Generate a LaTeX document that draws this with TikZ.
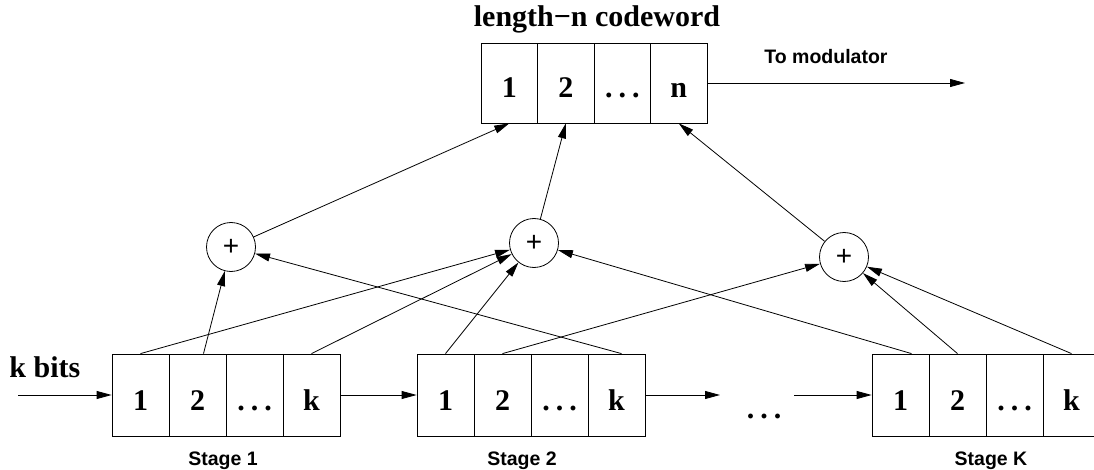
\documentclass[tikz,border=0pt]{standalone}
\usepackage{fontspec}
\setmainfont{Liberation Serif}
\setsansfont{Liberation Sans}
\usetikzlibrary{arrows.meta,positioning}

\begin{document}
\begin{tikzpicture}[x=1pt, y=-1pt, line width=0.8pt,
    >={Triangle[length=15pt,width=8pt]},
    cwcell/.style={draw, minimum width=56.5pt, minimum height=80pt, inner sep=0pt,
      text height=30pt, text depth=0pt, font=\bfseries\fontsize{30}{32}\selectfont},
    cell/.style={cwcell, minimum width=57pt, minimum height=82pt},
    adder/.style={draw, circle, minimum size=49pt, inner sep=0pt,
      font=\sffamily\fontsize{28}{30}\selectfont},
    bits/.style={font=\bfseries\fontsize{30}{32}\selectfont, inner sep=0pt},
    sanslbl/.style={font=\sffamily\bfseries\fontsize{19.5}{21}\selectfont, inner sep=0pt}]
  \newcommand{\spdots}{.\hspace{6pt}.\hspace{6pt}.}
  \useasboundingbox (0,0) rectangle (1094,470);
  % codeword register
  \foreach \t [count=\i] in {1,2,\spdots,n}
    \node[cwcell] (cw\i) at ({481+56.5*(\i-0.5)},83) {\t};
  \node[bits, anchor=base] (title) at (597,27) {length\char"2212 n codeword};
  \coordinate (out) at (965,83);
  \draw[->] (cw4.east) -- (out);
  \node[sanslbl, anchor=base] (tomod) at (826,64) {To modulator};
  % shift register stages
  \foreach \s/\x/\lx in {1/112/223, 2/417/522, K/872/991} {
    \foreach \t [count=\i] in {1,2,\spdots,k}
      \node[cell] (s\s-\i) at ({\x+57*(\i-0.5)},395) {\t};
    \node[sanslbl, anchor=base] (lbl\s) at (\lx,465) {Stage \s};
  }
  \node[bits, anchor=base west] (kbits) at (9,377) {k bits};
  \coordinate (in) at (18,395);
  \draw[->] (in) -- (s1-1.west);
  \draw[->] (s1-4.east) -- (s2-1.west);
  \coordinate (gapL) at (720,395);
  \coordinate (gapR) at (794,395);
  \draw[->] (s2-4.east) -- (gapL);
  \node[bits, anchor=base] (gap) at (764,418) {\spdots};
  \draw[->] (gapR) -- (sK-1.west);
  % modulo-2 adders
  \node[adder] (a1) at (231,247) {+};
  \node[adder] (a2) at (534,243) {+};
  \node[adder] (a3) at (844,257) {+};
  \draw[->] (a1) -- (cw1.south);
  \draw[->] (a2) -- (cw2.south);
  \draw[->] (a3) -- (cw4.south);
  % taps
  \draw[->] ([xshift=6pt]s1-2.north) -- (a1);
  \draw[->] ([xshift=5pt]s2-4.north) -- (a1);
  \draw[->] (s1-1.north) -- (a2);
  \draw[->] (s1-4.north) -- (a2);
  \draw[->] (s2-1.north) -- (a2);
  \draw[->] ([xshift=11pt]sK-1.north) -- (a2);
  \draw[->] (s2-2.north) -- (a3);
  \draw[->] (sK-2.north) -- (a3);
  \draw[->] (sK-4.north) -- (a3);
\end{tikzpicture}
\end{document}
